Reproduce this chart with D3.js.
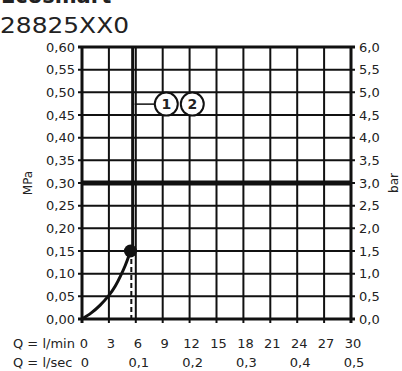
<!DOCTYPE html>
<html><head><meta charset="utf-8">
<script src="https://cdn.jsdelivr.net/npm/d3@7"></script>
<style>body{margin:0;background:#fff}svg{display:block}text{font-family:"DejaVu Sans",sans-serif;fill:#222}</style>
</head><body>
<script>
// Data
const titleTop = "Ecosmart";
const title = "28825XX0";
const mpaTicks = [0,0.05,0.10,0.15,0.20,0.25,0.30,0.35,0.40,0.45,0.50,0.55,0.60];
const barTicks = [0,0.5,1.0,1.5,2.0,2.5,3.0,3.5,4.0,4.5,5.0,5.5,6.0];
const lminTicks = [0,3,6,9,12,15,18,21,24,27,30];
const lsecTicks = [0,0.1,0.2,0.3,0.4,0.5];
// curve: flow (l/min), pressure (MPa)
const curveQ = [0,1,2,3,3.7,4.3,4.8,5.15,5.4];
const curveP = [0,0.013,0.03,0.052,0.072,0.095,0.117,0.135,0.15];
const pointQ = 5.4, pointP = 0.15;
const verticalQ = 5.65;      // solid vertical line flow
const dashedQ = 5.5;         // dashed drop line
const limitP = 0.30;         // thick pressure line
const labels = ["1","2"];
const labelP = 0.474;

const W=402,H=371;
const svg=d3.select("body").append("svg").attr("width",W).attr("height",H);
const x=d3.scaleLinear().domain([0,30]).range([82,351]);
const y=d3.scaleLinear().domain([0,0.6]).range([319,47]);
const fmt2=d=>d3.format(".2f")(d).replace(".",",");
const fmt1=d=>d3.format(".1f")(d).replace(".",",");

svg.append("text").attr("x",1).attr("y",3).attr("font-size",21).attr("font-weight","bold").text(titleTop);
svg.append("text").attr("x",0).attr("y",33).attr("font-size",21).attr("textLength",129).attr("lengthAdjust","spacingAndGlyphs").text(title);

// grid
const g=svg.append("g");
g.selectAll(".vg").data(lminTicks).join("line")
 .attr("x1",d=>x(d)).attr("x2",d=>x(d)).attr("y1",y(0.6)).attr("y2",y(0)+4)
 .attr("stroke","#111").attr("stroke-width",d=>(d===0||d===30)?3:2);
g.selectAll(".hg").data(mpaTicks).join("line")
 .attr("x1",x(0)-4).attr("x2",x(30)+4).attr("y1",d=>y(d)).attr("y2",d=>y(d))
 .attr("stroke","#111").attr("stroke-width",d=>(d===0||d===0.6)?3:2);

// axis labels
svg.selectAll(".ly").data(mpaTicks).join("text")
 .attr("x",75).attr("y",d=>y(d)+4.5).attr("text-anchor","end").attr("font-size",13).text(fmt2);
svg.selectAll(".ry").data(barTicks).join("text")
 .attr("x",359).attr("y",d=>y(d/10)+4.5).attr("font-size",13).text(fmt1);
svg.append("text").attr("transform",`translate(32,${y(0.3)}) rotate(-90)`).attr("text-anchor","middle").attr("font-size",12).text("MPa");
svg.append("text").attr("transform",`translate(398,${y(0.3)}) rotate(-90)`).attr("text-anchor","middle").attr("font-size",12).text("bar");

// x labels
svg.append("text").attr("x",13).attr("y",348).attr("font-size",13).text("Q = l/min");
svg.selectAll(".xl").data(lminTicks).join("text")
 .attr("x",d=>x(d)+2).attr("y",348).attr("text-anchor","middle").attr("font-size",13).text(d=>d);
svg.append("text").attr("x",13).attr("y",367).attr("font-size",13).text("Q = l/sec");
svg.selectAll(".xs").data(lsecTicks).join("text")
 .attr("x",d=>x(d*60)+3).attr("y",367).attr("text-anchor","middle").attr("font-size",13).text(d=>d===0?"0":fmt1(d));

// thick limit line
svg.append("line").attr("x1",x(0)).attr("x2",x(30)).attr("y1",y(limitP)).attr("y2",y(limitP)).attr("stroke","#111").attr("stroke-width",5);

// curve
const pts=curveQ.map((q,i)=>[q,curveP[i]]);
svg.append("path").datum(pts).attr("d",d3.line().x(d=>x(d[0])).y(d=>y(d[1])).curve(d3.curveNatural))
 .attr("fill","none").attr("stroke","#111").attr("stroke-width",3);
svg.append("line").attr("x1",x(verticalQ)).attr("x2",x(verticalQ)).attr("y1",y(pointP)).attr("y2",y(0.6))
 .attr("stroke","#111").attr("stroke-width",3);
svg.append("line").attr("x1",x(dashedQ)).attr("x2",x(dashedQ)).attr("y1",y(pointP)).attr("y2",y(0))
 .attr("stroke","#111").attr("stroke-width",2).attr("stroke-dasharray","5,3");
svg.append("circle").attr("cx",x(pointQ)).attr("cy",y(pointP)).attr("r",6.5).attr("fill","#111");

// callouts
svg.append("line").attr("x1",x(verticalQ)+2).attr("x2",x(8.2)).attr("y1",y(labelP)).attr("y2",y(labelP)).attr("stroke","#111").attr("stroke-width",1.5);
const cx=[9.4,12.3];
labels.forEach((l,i)=>{
  svg.append("circle").attr("cx",x(cx[i])).attr("cy",y(labelP)).attr("r",11.5).attr("fill","#fff").attr("stroke","#111").attr("stroke-width",2);
  svg.append("text").attr("x",x(cx[i])).attr("y",y(labelP)+5).attr("text-anchor","middle").attr("font-size",14).attr("font-weight","bold").text(l);
});
</script>
</body></html>
